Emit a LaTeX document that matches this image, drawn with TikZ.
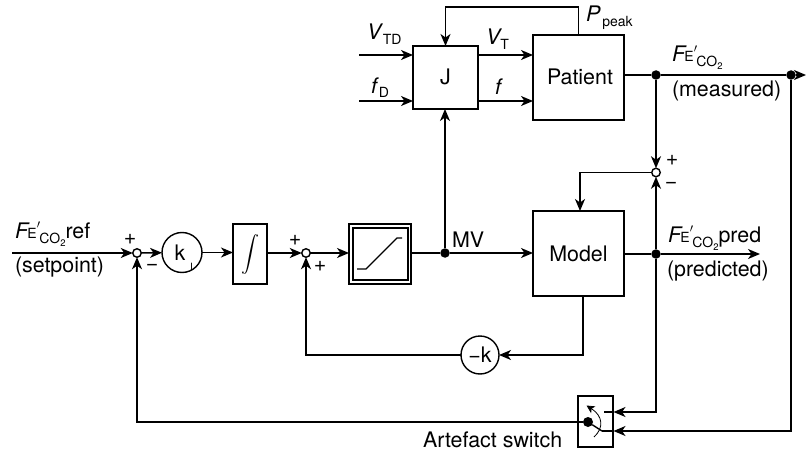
\documentclass[tikz,border=0pt]{standalone}
\usepackage{fontspec}
\setmainfont{TeX Gyre Heros}
\usetikzlibrary{arrows.meta}
\newcommand{\bigf}{\fontsize{21.4}{23}\selectfont}
\newcommand{\subf}{\fontsize{14}{15}\selectfont}
\newcommand{\isym}[1]{{\itshape #1}}
\newcommand{\subs}[2]{\kern#2\raisebox{-5pt}{\subf #1}}
\newcommand{\FCO}{{\itshape F}\kern-0.6pt{\subf E}\rlap{\raisebox{3pt}{\fontsize{17}{18}\selectfont$'$}}\kern2.6pt\raisebox{-5pt}{\subf CO}\raisebox{-8pt}{\fontsize{9.5}{10}\selectfont 2}}
\tikzset{
  every node/.style={font=\bigf},
  ln/.style={line width=1.4pt},
  arr/.style={ln,-{Stealth[length=12pt,width=10pt,inset=3.5pt]}},
  box/.style={draw,ln,rectangle,inner sep=0pt,outer sep=0pt,fill=white},
  sumc/.style={draw,ln,circle,fill=white,minimum size=8.5pt,inner sep=0pt,outer sep=0pt},
  gain/.style={draw,ln,circle,fill=white,inner sep=0pt,outer sep=0pt},
  jdot/.style={circle,fill=black,minimum size=9.5pt,inner sep=0pt,outer sep=0pt},
  txt/.style={anchor=base west,inner sep=0pt,outer sep=0pt},
}
\begin{document}
\begin{tikzpicture}[x=1pt,y=-1pt]
\useasboundingbox (0,0) rectangle (806,452);
% blocks
\node[box,minimum width=65pt,minimum height=63pt] (J) at (445.5,77.5) {\raisebox{1.5pt}{J}};
\node[box,minimum width=91pt,minimum height=85pt] (P) at (578.5,77.5) {\raisebox{1.5pt}{\kern3pt Patient}};
\node[box,minimum width=91pt,minimum height=85pt] (M) at (578.5,253.5) {Model};
\node[box,minimum width=34pt,minimum height=60pt] (I) at (250,254) {\scalebox{1.8}{$\displaystyle\int$}};
\node[box,minimum width=62pt,minimum height=60pt] (S) at (380,254) {};
\node[box,minimum width=55pt,minimum height=52pt] (Si) at (380.5,254) {};
\node[gain,minimum size=40pt] (K) at (182,252.5) {\kern-4pt\raisebox{-1pt}{k}};
\node[txt,font=\fontsize{10}{11}\selectfont] (Ksub) at (190,270) {I};
\node[gain,minimum size=38pt] (MK) at (480,355) {\textminus k};
\node[box,minimum width=35pt,minimum height=51pt] (Sw) at (595.5,421.5) {};
% summing junctions
\node[sumc] (S1) at (137,253) {};
\node[sumc] (S2) at (306,253) {};
\node[sumc] (S3) at (656,172.5) {};
% branch dots
\node[jdot] (D1) at (445,253) {};
\node[jdot] (D2) at (656,75) {};
\node[jdot] (D3) at (791,75) {};
\node[jdot] (D4) at (656,254) {};
\node[jdot,minimum size=10pt] (D5) at (588,422) {};
% free ends
\coordinate (inA) at (12,253);
\coordinate (inV) at (359,55);
\coordinate (inF) at (359,101);
\coordinate (outR) at (806,75);
\coordinate (outP) at (760,254);
\coordinate (lev) at (602,431);
\coordinate (st1) at (604,412);
\coordinate (swA) at (613.5,412);
\coordinate (swB) at (613.5,431);
\coordinate (mt) at (580,211);
\coordinate (mb) at (583,296);
% forward path
\draw[arr] (inA) -- (S1);
\draw[arr] (S1) -- (K);
\draw[arr] (K) -- (I.west |- K);
\draw[arr] (I.east |- S2) -- (S2);
\draw[arr] (S2) -- (S.west |- S2);
\draw[ln] (S.east |- D1) -- (D1);
\draw[arr] (D1) -- (M.west |- D1);
\draw[arr] (D1) -- (J.south -| D1);
% J
\draw[arr] (inV) -- (J.west |- inV);
\draw[arr] (inF) -- (J.west |- inF);
\draw[arr] (J.east |- inV) -- (P.west |- inV);
\draw[arr] (J.east |- inF) -- (P.west |- inF);
\draw[arr] (P.north) -- ++(0,-28) -| (J.north);
% outputs
\draw[ln] (P.east |- D2) -- (D2);
\draw[ln] (D2) -- (D3);
\draw[arr] (D3) -- (outR);
\draw[arr] (D2) -- (S3);
\draw[arr] (D4) -- (S3);
\draw[arr] (S3) -| (mt);
\draw[ln] (M.east |- D4) -- (D4);
\draw[arr] (D4) -- (outP);
% loop
\draw[arr] (mb) -- ++(0,59) -- (MK);
\draw[arr] (MK) -| (S2);
\draw[arr] (D4) |- (swA);
\draw[arr] (D3) |- (swB);
\draw[ln] (st1) -- (swA);
\draw[ln] (lev) -- (swB);
\draw[ln] (D5) -- (lev);
\draw[arr] (D5) -| (S1);
\draw[line width=0.8pt,-{Stealth[length=8pt,width=8pt,inset=2pt]}] (594,437) .. controls (604,428) and (603,416) .. (586.5,405.5);
% ramp
\draw[ln] (357,269) -- (366,269) -- (397,238) -- (402,238);
% labels
\node[txt] (tV) at (367,40) {\isym{V}\subs{TD}{1.5pt}};
\node[txt] (tf) at (371,93) {\isym{f}\subs{D}{2pt}};
\node[txt] (tVT) at (486,45) {\isym{V}\subs{T}{0pt}};
\node[txt] (tff) at (495,94) {\isym{f}};
\node[txt] (tPk) at (586,22) {\isym{P}\subs{peak}{2pt}};
\node[txt] (tF1) at (672,62) {\FCO};
\node[txt] (tM1) at (672,96) {(measured)};
\node[txt] (tF2) at (668,242) {\FCO pred};
\node[txt] (tM2) at (667,276) {(predicted)};
\node[txt] (tF3) at (15,238) {\FCO ref};
\node[txt] (tM3) at (15,272) {(setpoint)};
\node[txt] (tMV) at (452,247) {MV};
\node[txt] (tAS) at (423,447) {Artefact switch};
\node[inner sep=0pt] (p1) at (672,160) {+};
\node[inner sep=0pt] (m1) at (671,185) {\textminus};
\node[inner sep=0pt] (p2) at (130,239) {+};
\node[inner sep=0pt] (m2) at (152,267) {\textminus};
\node[inner sep=0pt] (p3) at (295,240) {+};
\node[inner sep=0pt] (p4) at (320,266) {+};
\end{tikzpicture}
\end{document}
